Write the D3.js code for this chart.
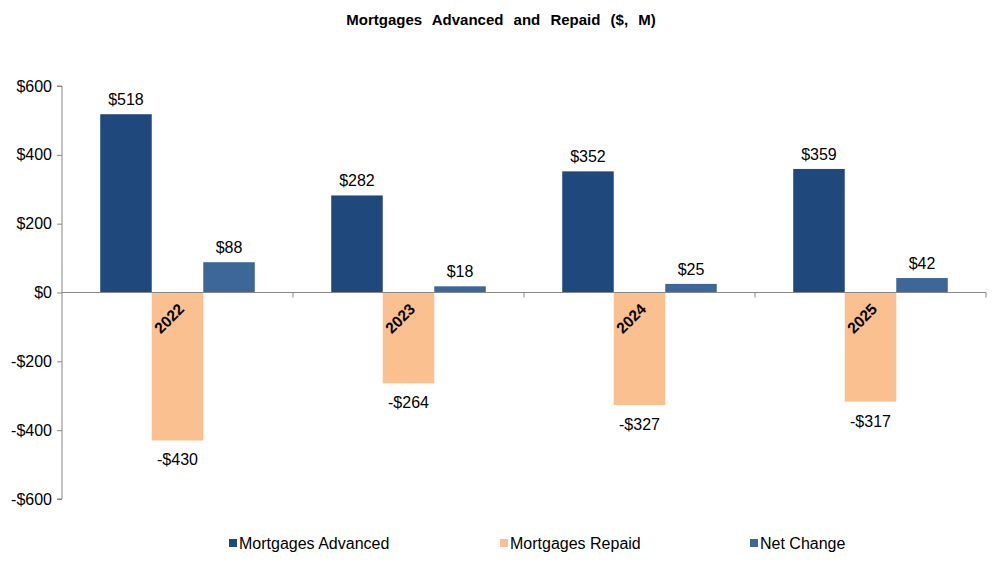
<!DOCTYPE html>
<html><head><meta charset="utf-8">
<script src="https://cdn.jsdelivr.net/npm/d3@7"></script>
<style>body{margin:0;background:#fff}text{font-family:Arial,"Liberation Sans",sans-serif}</style>
</head><body><svg id="c" width="1004" height="578"></svg>
<script>
const categories = ["2022","2023","2024","2025"];
const seriesNames = ["Mortgages Advanced","Mortgages Repaid","Net Change"];
const advanced = [518,282,352,359];
const repaid = [-430,-264,-327,-317];
const netChange = [88,18,25,42];
const yTicks = [-600,-400,-200,0,200,400,600];
const colors = ["#1F497D","#FAC090","#3C6798"];
const seriesVals = [advanced, repaid, netChange];

const svg = d3.select("#c");
const L = 62, R = 986, T = 86, B = 499;
const x = d3.scaleBand().domain(categories).range([L,R]).paddingInner(0).paddingOuter(0);
const xs = d3.scaleBand().domain(seriesNames).range([0,x.bandwidth()]).paddingInner(0).paddingOuter(0.742);
const y = d3.scaleLinear().domain([-600,600]).range([B,T]);
const axisColor = "#868686";

svg.append("text").attr("x",501).attr("y",25).attr("text-anchor","middle")
  .attr("font-size",15).attr("font-weight","bold").attr("word-spacing","6px")
  .text("Mortgages Advanced and Repaid ($, M)");

// y axis
const ya = svg.append("g").attr("transform",`translate(${L},0)`)
  .call(d3.axisLeft(y).tickValues(yTicks).tickSize(5).tickPadding(5).tickFormat(d=> (d<0?"-$":"$")+Math.abs(d)));
ya.select(".domain").attr("stroke",axisColor).attr("d",`M-5,${B}H0V${T}H-5`);
ya.selectAll(".tick line").attr("stroke",axisColor);
ya.selectAll(".tick text").attr("font-size",16).attr("fill","#000").attr("font-family","Arial");

// bars
seriesVals.forEach((vals,si)=>{
  svg.append("g").selectAll("rect").data(vals).join("rect")
    .attr("x",(d,i)=>x(categories[i])+xs(seriesNames[si]))
    .attr("width",xs.bandwidth())
    .attr("y",d=>y(Math.max(0,d)))
    .attr("height",d=>Math.abs(y(d)-y(0)))
    .attr("fill",colors[si]);
  svg.append("g").selectAll("text").data(vals).join("text")
    .attr("x",(d,i)=>x(categories[i])+xs(seriesNames[si])+xs.bandwidth()/2)
    .attr("y",d=> d>=0 ? y(d)-9 : y(d)+25)
    .attr("text-anchor","middle").attr("font-size",16)
    .text(d=>(d<0?"-$":"$")+Math.abs(d));
});

// x axis
const xa = svg.append("g").attr("transform",`translate(0,${y(0)})`);
xa.append("line").attr("x1",L).attr("x2",R).attr("stroke",axisColor);
categories.forEach((c,i)=>{
  if(i>0) xa.append("line").attr("x1",x(c)).attr("x2",x(c)).attr("y1",0).attr("y2",5).attr("stroke",axisColor);
});
xa.append("line").attr("x1",R).attr("x2",R).attr("y1",0).attr("y2",5).attr("stroke",axisColor);
xa.selectAll("text.cat").data(categories).join("text").attr("class","cat")
  .attr("transform",d=>`translate(${x(d)+x.bandwidth()/2},${10}) rotate(-45)`)
  .attr("text-anchor","end").attr("dy","0.7em").attr("font-size",15.5).attr("font-weight","bold")
  .text(d=>d);

// legend
const legX = [229,500,750];
seriesNames.forEach((n,i)=>{
  const g = svg.append("g").attr("transform",`translate(${legX[i]},543)`);
  g.append("rect").attr("x",0).attr("y",-4).attr("width",8).attr("height",8).attr("fill",colors[i]);
  g.append("text").attr("x",10).attr("y",6).attr("font-size",16).text(n);
});
</script></body></html>
